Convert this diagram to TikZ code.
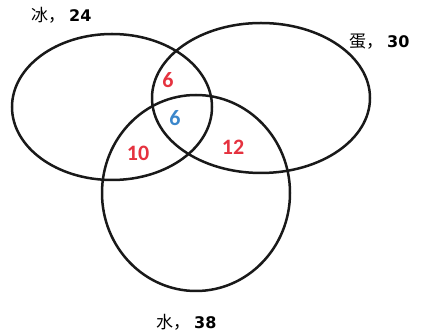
\documentclass[tikz,border=0pt]{standalone}
\usepackage{fontspec}
\setmainfont{Carlito}
\newfontfamily\cjk{Noto Sans CJK SC}
\newfontfamily\labelfont{DejaVu Sans}
\usetikzlibrary{positioning}
\definecolor{CountRed}{HTML}{E5323F}
\definecolor{CountBlue}{HTML}{3B87CB}

\begin{document}
\begin{tikzpicture}[x=1pt,y=-1pt,
  every node/.style={inner sep=0pt},
  setline/.style={line width=2.5pt,black!90},
  setlabel/.style={anchor=west,font=\fontsize{17}{17}\selectfont},
  count/.style={font=\fontsize{22}{22}\selectfont\bfseries}]
  \useasboundingbox (0,0) rectangle (421,336);
  % the three sets
  \draw[setline] (112,107) ellipse [x radius=100pt,y radius=73pt];
  \draw[setline] (261,98) ellipse [x radius=109pt,y radius=75pt];
  \draw[setline] (196,193) ellipse [x radius=94pt,y radius=98pt];

  \node[setlabel] (bingLabel) at (31,15) {{\cjk 冰，}\hspace{4pt}{\labelfont\bfseries\fontsize{16}{16}\selectfont 24}};
  \node[setlabel] (danLabel) at (349,42) {{\cjk 蛋，}\hspace{4pt}{\labelfont\bfseries\fontsize{16}{16}\selectfont 30}};
  \node[setlabel] (shuiLabel) at (156,322) {{\cjk 水，}\hspace{4pt}{\labelfont\bfseries\fontsize{16}{16}\selectfont 38}};

  % overlaps
  \node[count,CountRed] (bingDan) at (168,80) {6};
  \node[count,CountBlue] (allThree) at (175,118) {6};
  \node[count,CountRed] (bingShui) at (138,153) {10};
  \node[count,CountRed] (danShui) at (233,147) {12};
\end{tikzpicture}
\end{document}
